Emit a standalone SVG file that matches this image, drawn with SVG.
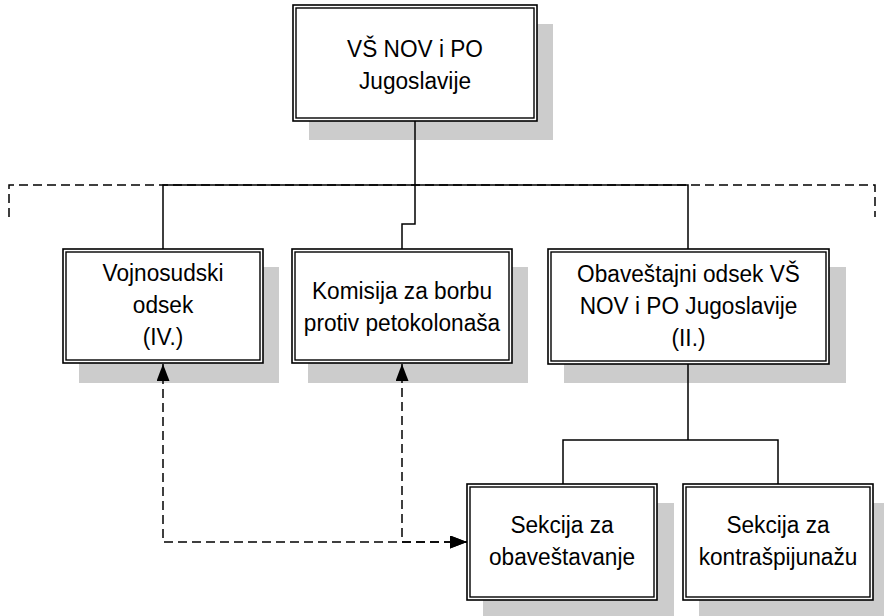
<svg xmlns="http://www.w3.org/2000/svg" width="884" height="616" viewBox="0 0 884 616">
<style>
.sh{fill:#cccccc;stroke:none}
.bo{fill:#ffffff;stroke:#000;stroke-width:1.6}
.bi{fill:none;stroke:#000;stroke-width:1.4}
.t{font-family:"Liberation Sans",Arial,sans-serif;font-size:24.5px;fill:#000;text-anchor:middle}
.c{fill:none;stroke:#000;stroke-width:1.5}
.d{fill:none;stroke:#000;stroke-width:1.5;stroke-dasharray:9 5}
</style>
<defs>
<marker id="ah" markerUnits="userSpaceOnUse" viewBox="0 0 17 13" refX="17" refY="6.5" markerWidth="17" markerHeight="13" orient="auto-start-reverse">
<path d="M0,0 L17,6.5 L0,13 Z" fill="#000"/>
</marker>
</defs>
<g id="n-top">
<rect class="sh" x="309" y="24" width="244" height="116"/>
<rect class="bo" x="293" y="5" width="244" height="116"/>
<rect class="bi" x="296" y="8" width="238" height="110"/>
<text class="t" transform="translate(415,57) scale(0.925,1)">VŠ NOV i PO</text>
<text class="t" transform="translate(415,89) scale(0.925,1)">Jugoslavije</text>
</g>
<g id="n-vojno">
<rect class="sh" x="79" y="267" width="200" height="116"/>
<rect class="bo" x="63" y="249" width="200" height="114"/>
<rect class="bi" x="66" y="252" width="194" height="108"/>
<text class="t" transform="translate(163,281) scale(0.925,1)">Vojnosudski</text>
<text class="t" transform="translate(163,313) scale(0.925,1)">odsek</text>
<text class="t" transform="translate(163,345) scale(0.925,1)">(IV.)</text>
</g>
<g id="n-komisija">
<rect class="sh" x="308" y="267" width="220" height="116"/>
<rect class="bo" x="292" y="249" width="220" height="114"/>
<rect class="bi" x="295" y="252" width="214" height="108"/>
<text class="t" transform="translate(402,299) scale(0.925,1)">Komisija za borbu</text>
<text class="t" transform="translate(402,331) scale(0.925,1)">protiv petokolonaša</text>
</g>
<g id="n-obav">
<rect class="sh" x="564" y="267" width="282" height="116"/>
<rect class="bo" x="548" y="249" width="281" height="115"/>
<rect class="bi" x="551" y="252" width="275" height="109"/>
<text class="t" transform="translate(688.5,282) scale(0.925,1)">Obaveštajni odsek VŠ</text>
<text class="t" transform="translate(688.5,314) scale(0.925,1)">NOV i PO Jugoslavije</text>
<text class="t" transform="translate(688.5,346) scale(0.925,1)">(II.)</text>
</g>
<g id="n-sek1">
<rect class="sh" x="483" y="503" width="191" height="116"/>
<rect class="bo" x="467" y="484" width="190" height="116"/>
<rect class="bi" x="470" y="487" width="184" height="110"/>
<text class="t" transform="translate(562,533) scale(0.925,1)">Sekcija za</text>
<text class="t" transform="translate(562,565) scale(0.925,1)">obaveštavanje</text>
</g>
<g id="n-sek2">
<rect class="sh" x="699" y="503" width="191" height="116"/>
<rect class="bo" x="683" y="484" width="190" height="116"/>
<rect class="bi" x="686" y="487" width="184" height="110"/>
<text class="t" transform="translate(778,533) scale(0.925,1)">Sekcija za</text>
<text class="t" transform="translate(778,565) scale(0.925,1)">kontrašpijunažu</text>
</g>
<g id="connectors">
<path class="d" d="M9,217 V185 H875 V217"/>
<path class="c" d="M415,121 V224 H402 V249"/>
<path class="c" d="M163,249 V185 H688 V249"/>
<path class="c" d="M688,364 V440 M563,484 V440 H778 V484"/>
<path class="d" d="M467,542 H163 V364" marker-start="url(#ah)" marker-end="url(#ah)"/>
<path class="d" d="M467,542 H402 V364" marker-start="url(#ah)" marker-end="url(#ah)"/>
</g>
</svg>
